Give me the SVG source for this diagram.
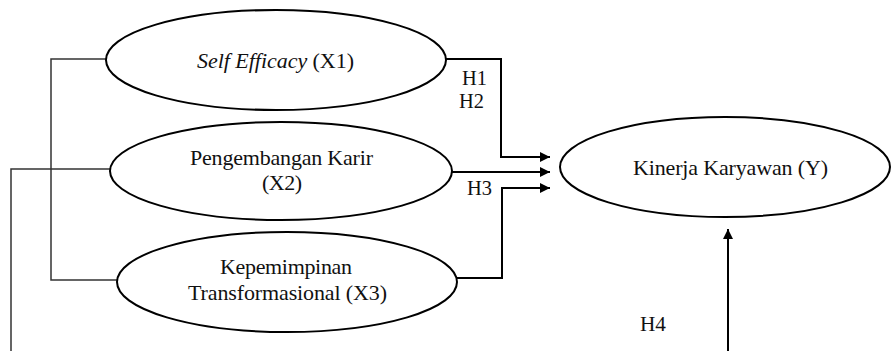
<svg xmlns="http://www.w3.org/2000/svg" width="892" height="351" viewBox="0 0 892 351">
<style>
.node ellipse{fill:#fff;stroke:#000;stroke-width:2}
text{font-family:"Liberation Serif","Times New Roman",serif;font-size:22px;fill:#111}
.c{text-anchor:middle}
.arr{fill:none;stroke:#000;stroke-width:2}
.thin{fill:none;stroke:#333;stroke-width:1.5}
</style>
<defs>
<marker id="ah" markerWidth="10" markerHeight="10" refX="10" refY="5" orient="auto" markerUnits="userSpaceOnUse">
<path d="M0,0 L10,5 L0,10 Z" fill="#000"/>
</marker>
</defs>
<g id="connectors">
<polyline class="thin" points="106,59 51,59 51,280 117,280"/>
<polyline class="thin" points="110,169 11,169 11,351"/>
<polyline class="arr" points="446,59 501,59 501,157 550,157" marker-end="url(#ah)"/>
<polyline class="arr" points="452,172 550,172" marker-end="url(#ah)"/>
<polyline class="arr" points="457,278 502,278 502,188 550,188" marker-end="url(#ah)"/>
<polyline class="arr" points="728,351 728,229" marker-end="url(#ah)"/>
<text x="462" y="85" textLength="25" lengthAdjust="spacingAndGlyphs">H1</text>
<text x="459" y="108" textLength="25" lengthAdjust="spacingAndGlyphs">H2</text>
<text x="467" y="195" textLength="25" lengthAdjust="spacingAndGlyphs">H3</text>
<text x="640" y="331" textLength="26" lengthAdjust="spacingAndGlyphs">H4</text>
</g>
<g id="x1" class="node">
<ellipse cx="276" cy="60" rx="170" ry="50"/>
<text class="c" x="275.5" y="68" textLength="157" lengthAdjust="spacing"><tspan font-style="italic">Self Efficacy</tspan> (X1)</text>
</g>
<g id="x2" class="node">
<ellipse cx="281" cy="171" rx="171" ry="49"/>
<text class="c" x="281.5" y="165" textLength="183" lengthAdjust="spacing">Pengembangan Karir</text>
<text class="c" x="282" y="190" textLength="40" lengthAdjust="spacing">(X2)</text>
</g>
<g id="x3" class="node">
<ellipse cx="287" cy="282" rx="170" ry="50"/>
<text class="c" x="286" y="274" textLength="132" lengthAdjust="spacing">Kepemimpinan</text>
<text class="c" x="287.5" y="300" textLength="199" lengthAdjust="spacing">Transformasional (X3)</text>
</g>
<g id="y" class="node">
<ellipse cx="725" cy="167" rx="165" ry="50"/>
<text class="c" x="730.5" y="175" textLength="195" lengthAdjust="spacing">Kinerja Karyawan (Y)</text>
</g>
</svg>
